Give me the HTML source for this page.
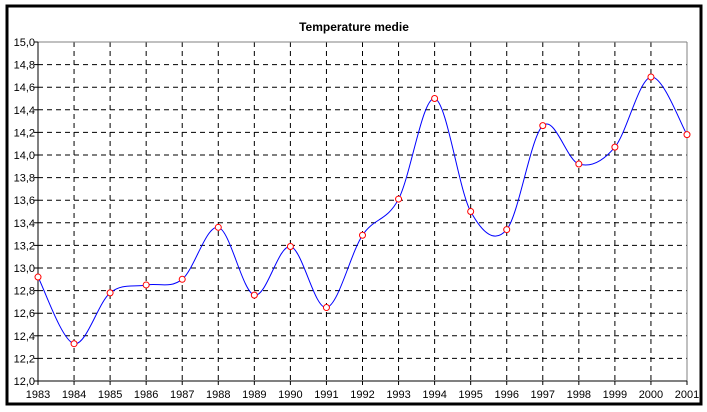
<!DOCTYPE html>
<html><head><meta charset="utf-8"><style>
html,body{margin:0;padding:0;background:#fff;}
svg{display:block;font-family:"Liberation Sans",Arial,sans-serif;}
</style></head><body>
<svg id="s" width="707" height="412" xmlns="http://www.w3.org/2000/svg">
<rect x="0" y="0" width="707" height="412" fill="#fff"/>
<rect x="7" y="6" width="694" height="398" fill="none" stroke="#000" stroke-width="3"/>
<text x="354" y="31" font-size="12" font-weight="bold" text-anchor="middle">Temperature  medie</text>
<g id="g"></g>
</svg>
<script>
var L=38,R=687,T=42,B=381;
var vals=[12.92,12.33,12.78,12.85,12.90,13.36,12.76,13.19,12.65,13.29,13.61,14.50,13.50,13.34,14.26,13.92,14.07,14.69,14.18];
function X(i){return L+(R-L)*i/18;}
function Y(v){return B-(B-T)*(v-12)/3;}
var h='';
for(var k=0;k<=15;k++){var y=Y(12+k*0.2);
 if(k>0&&k<15)h+='<line x1="'+L+'" x2="'+R+'" y1="'+y+'" y2="'+y+'" stroke="#000" stroke-dasharray="5,4"/>';
 h+='<line x1="'+(L-4)+'" x2="'+L+'" y1="'+y+'" y2="'+y+'" stroke="#000"/>';
 h+='<text x="'+(L-3)+'" y="'+(y+4)+'" font-size="11" text-anchor="end">'+(12+k*0.2).toFixed(1).replace('.',',')+'</text>';}
for(var i=0;i<=18;i++){var x=X(i);
 if(i>0&&i<18)h+='<line x1="'+x+'" x2="'+x+'" y1="'+T+'" y2="'+B+'" stroke="#000" stroke-dasharray="5,4"/>';
 h+='<line x1="'+x+'" x2="'+x+'" y1="'+B+'" y2="'+(B+4)+'" stroke="#000"/>';
 h+='<text x="'+x+'" y="'+(B+17)+'" font-size="11" text-anchor="middle">'+(1983+i)+'</text>';}
h+='<line x1="'+L+'" x2="'+R+'" y1="'+T+'" y2="'+T+'" stroke="#808080"/>';
h+='<line x1="'+R+'" x2="'+R+'" y1="'+T+'" y2="'+B+'" stroke="#808080"/>';
h+='<line x1="'+L+'" x2="'+L+'" y1="'+T+'" y2="'+B+'" stroke="#000"/>';
h+='<line x1="'+L+'" x2="'+R+'" y1="'+B+'" y2="'+B+'" stroke="#000"/>';
var p=vals.map(function(v,i){return [X(i),Y(v)];});
var d='M'+p[0][0]+','+p[0][1];
for(var i=0;i<p.length-1;i++){var p0=p[i>0?i-1:i],p1=p[i],p2=p[i+1],p3=p[i+2<p.length?i+2:i+1];
 var c1=[p1[0]+(p2[0]-p0[0])/6,p1[1]+(p2[1]-p0[1])/6],c2=[p2[0]-(p3[0]-p1[0])/6,p2[1]-(p3[1]-p1[1])/6];
 d+=' C'+c1+' '+c2+' '+p2;}
h+='<path d="'+d+'" fill="none" stroke="#0000ff" stroke-width="1"/>';
p.forEach(function(q){h+='<circle cx="'+q[0]+'" cy="'+q[1]+'" r="3" fill="#fff" stroke="#ff0000"/>';});
document.getElementById('g').innerHTML=h;
</script>
</body></html>
